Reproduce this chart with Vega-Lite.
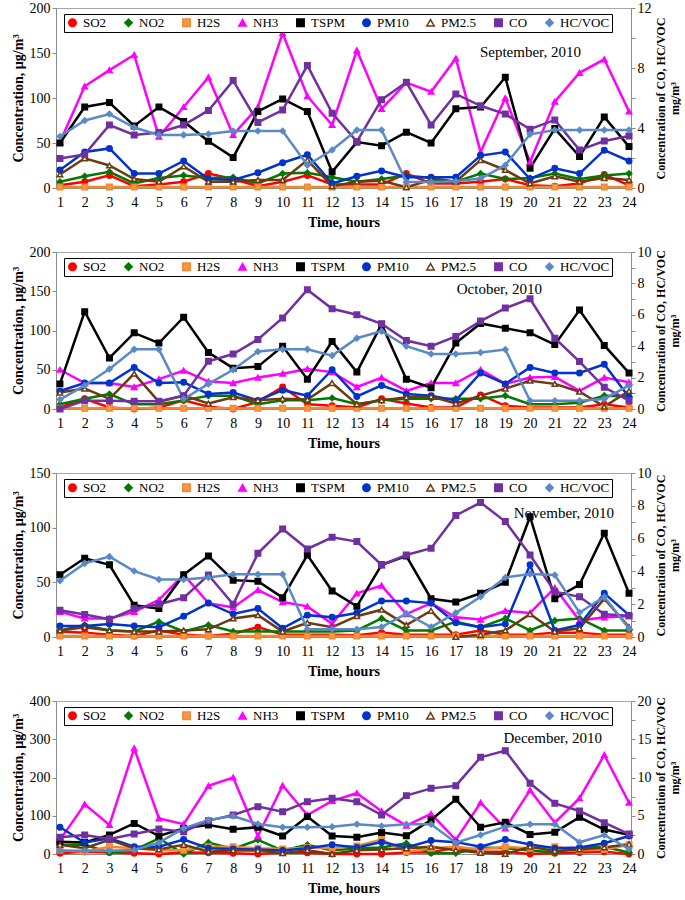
{
"$schema":"https://vega.github.io/schema/vega-lite/v6.json",
"padding":{"left":10,"top":0,"right":0,"bottom":2},
"spacing":64,
"bounds":"flush",
"datasets":{
"sep":[
{"hour":1,"gas":"SO2","value":3},{"hour":2,"gas":"SO2","value":7},{"hour":3,"gas":"SO2","value":14},{"hour":4,"gas":"SO2","value":2},{"hour":5,"gas":"SO2","value":4},{"hour":6,"gas":"SO2","value":7},{"hour":7,"gas":"SO2","value":16},{"hour":8,"gas":"SO2","value":10},{"hour":9,"gas":"SO2","value":2},{"hour":10,"gas":"SO2","value":7},{"hour":11,"gas":"SO2","value":14},{"hour":12,"gas":"SO2","value":4},{"hour":13,"gas":"SO2","value":4},{"hour":14,"gas":"SO2","value":4},{"hour":15,"gas":"SO2","value":16},{"hour":16,"gas":"SO2","value":5},{"hour":17,"gas":"SO2","value":5},{"hour":18,"gas":"SO2","value":7},{"hour":19,"gas":"SO2","value":10},{"hour":20,"gas":"SO2","value":3},{"hour":21,"gas":"SO2","value":2},{"hour":22,"gas":"SO2","value":5},{"hour":23,"gas":"SO2","value":15},{"hour":24,"gas":"SO2","value":3},
{"hour":1,"gas":"NO2","value":7},{"hour":2,"gas":"NO2","value":13},{"hour":3,"gas":"NO2","value":18},{"hour":4,"gas":"NO2","value":5},{"hour":5,"gas":"NO2","value":11},{"hour":6,"gas":"NO2","value":14},{"hour":7,"gas":"NO2","value":11},{"hour":8,"gas":"NO2","value":12},{"hour":9,"gas":"NO2","value":5},{"hour":10,"gas":"NO2","value":16},{"hour":11,"gas":"NO2","value":17},{"hour":12,"gas":"NO2","value":12},{"hour":13,"gas":"NO2","value":7},{"hour":14,"gas":"NO2","value":10},{"hour":15,"gas":"NO2","value":14},{"hour":16,"gas":"NO2","value":11},{"hour":17,"gas":"NO2","value":7},{"hour":18,"gas":"NO2","value":16},{"hour":19,"gas":"NO2","value":10},{"hour":20,"gas":"NO2","value":11},{"hour":21,"gas":"NO2","value":16},{"hour":22,"gas":"NO2","value":10},{"hour":23,"gas":"NO2","value":14},{"hour":24,"gas":"NO2","value":16},
{"hour":1,"gas":"H2S","value":1},{"hour":2,"gas":"H2S","value":1},{"hour":3,"gas":"H2S","value":1},{"hour":4,"gas":"H2S","value":1},{"hour":5,"gas":"H2S","value":1},{"hour":6,"gas":"H2S","value":1},{"hour":7,"gas":"H2S","value":1},{"hour":8,"gas":"H2S","value":1},{"hour":9,"gas":"H2S","value":1},{"hour":10,"gas":"H2S","value":1},{"hour":11,"gas":"H2S","value":1},{"hour":12,"gas":"H2S","value":1},{"hour":13,"gas":"H2S","value":1},{"hour":14,"gas":"H2S","value":1},{"hour":15,"gas":"H2S","value":1},{"hour":16,"gas":"H2S","value":1},{"hour":17,"gas":"H2S","value":1},{"hour":18,"gas":"H2S","value":1},{"hour":19,"gas":"H2S","value":1},{"hour":20,"gas":"H2S","value":1},{"hour":21,"gas":"H2S","value":1},{"hour":22,"gas":"H2S","value":1},{"hour":23,"gas":"H2S","value":1},{"hour":24,"gas":"H2S","value":1},
{"hour":1,"gas":"NH3","value":51},{"hour":2,"gas":"NH3","value":113},{"hour":3,"gas":"NH3","value":131},{"hour":4,"gas":"NH3","value":148},{"hour":5,"gas":"NH3","value":57},{"hour":6,"gas":"NH3","value":90},{"hour":7,"gas":"NH3","value":123},{"hour":8,"gas":"NH3","value":59},{"hour":9,"gas":"NH3","value":90},{"hour":10,"gas":"NH3","value":172},{"hour":11,"gas":"NH3","value":102},{"hour":12,"gas":"NH3","value":70},{"hour":13,"gas":"NH3","value":153},{"hour":14,"gas":"NH3","value":88},{"hour":15,"gas":"NH3","value":117},{"hour":16,"gas":"NH3","value":107},{"hour":17,"gas":"NH3","value":144},{"hour":18,"gas":"NH3","value":40},{"hour":19,"gas":"NH3","value":100},{"hour":20,"gas":"NH3","value":29},{"hour":21,"gas":"NH3","value":96},{"hour":22,"gas":"NH3","value":128},{"hour":23,"gas":"NH3","value":143},{"hour":24,"gas":"NH3","value":85},
{"hour":1,"gas":"TSPM","value":50},{"hour":2,"gas":"TSPM","value":90},{"hour":3,"gas":"TSPM","value":95},{"hour":4,"gas":"TSPM","value":69},{"hour":5,"gas":"TSPM","value":90},{"hour":6,"gas":"TSPM","value":74},{"hour":7,"gas":"TSPM","value":52},{"hour":8,"gas":"TSPM","value":34},{"hour":9,"gas":"TSPM","value":85},{"hour":10,"gas":"TSPM","value":99},{"hour":11,"gas":"TSPM","value":85},{"hour":12,"gas":"TSPM","value":18},{"hour":13,"gas":"TSPM","value":51},{"hour":14,"gas":"TSPM","value":47},{"hour":15,"gas":"TSPM","value":62},{"hour":16,"gas":"TSPM","value":50},{"hour":17,"gas":"TSPM","value":88},{"hour":18,"gas":"TSPM","value":90},{"hour":19,"gas":"TSPM","value":123},{"hour":20,"gas":"TSPM","value":22},{"hour":21,"gas":"TSPM","value":66},{"hour":22,"gas":"TSPM","value":35},{"hour":23,"gas":"TSPM","value":79},{"hour":24,"gas":"TSPM","value":46},
{"hour":1,"gas":"PM10","value":20},{"hour":2,"gas":"PM10","value":40},{"hour":3,"gas":"PM10","value":44},{"hour":4,"gas":"PM10","value":16},{"hour":5,"gas":"PM10","value":16},{"hour":6,"gas":"PM10","value":30},{"hour":7,"gas":"PM10","value":10},{"hour":8,"gas":"PM10","value":9},{"hour":9,"gas":"PM10","value":17},{"hour":10,"gas":"PM10","value":28},{"hour":11,"gas":"PM10","value":37},{"hour":12,"gas":"PM10","value":5},{"hour":13,"gas":"PM10","value":13},{"hour":14,"gas":"PM10","value":19},{"hour":15,"gas":"PM10","value":12},{"hour":16,"gas":"PM10","value":12},{"hour":17,"gas":"PM10","value":12},{"hour":18,"gas":"PM10","value":36},{"hour":19,"gas":"PM10","value":40},{"hour":20,"gas":"PM10","value":10},{"hour":21,"gas":"PM10","value":22},{"hour":22,"gas":"PM10","value":16},{"hour":23,"gas":"PM10","value":42},{"hour":24,"gas":"PM10","value":30},
{"hour":1,"gas":"PM2.5","value":15},{"hour":2,"gas":"PM2.5","value":33},{"hour":3,"gas":"PM2.5","value":25},{"hour":4,"gas":"PM2.5","value":10},{"hour":5,"gas":"PM2.5","value":7},{"hour":6,"gas":"PM2.5","value":24},{"hour":7,"gas":"PM2.5","value":7},{"hour":8,"gas":"PM2.5","value":7},{"hour":9,"gas":"PM2.5","value":9},{"hour":10,"gas":"PM2.5","value":9},{"hour":11,"gas":"PM2.5","value":31},{"hour":12,"gas":"PM2.5","value":2},{"hour":13,"gas":"PM2.5","value":7},{"hour":14,"gas":"PM2.5","value":8},{"hour":15,"gas":"PM2.5","value":1},{"hour":16,"gas":"PM2.5","value":9},{"hour":17,"gas":"PM2.5","value":7},{"hour":18,"gas":"PM2.5","value":31},{"hour":19,"gas":"PM2.5","value":20},{"hour":20,"gas":"PM2.5","value":5},{"hour":21,"gas":"PM2.5","value":13},{"hour":22,"gas":"PM2.5","value":7},{"hour":23,"gas":"PM2.5","value":11},{"hour":24,"gas":"PM2.5","value":9},
{"hour":1,"gas":"CO","value":1.97},{"hour":2,"gas":"CO","value":2.24},{"hour":3,"gas":"CO","value":4.2},{"hour":4,"gas":"CO","value":3.54},{"hour":5,"gas":"CO","value":3.7},{"hour":6,"gas":"CO","value":4.2},{"hour":7,"gas":"CO","value":5.17},{"hour":8,"gas":"CO","value":7.16},{"hour":9,"gas":"CO","value":4.37},{"hour":10,"gas":"CO","value":5.2},{"hour":11,"gas":"CO","value":8.17},{"hour":12,"gas":"CO","value":4.99},{"hour":13,"gas":"CO","value":3.09},{"hour":14,"gas":"CO","value":5.89},{"hour":15,"gas":"CO","value":7.05},{"hour":16,"gas":"CO","value":4.2},{"hour":17,"gas":"CO","value":6.27},{"hour":18,"gas":"CO","value":5.48},{"hour":19,"gas":"CO","value":4.93},{"hour":20,"gas":"CO","value":3.92},{"hour":21,"gas":"CO","value":4.54},{"hour":22,"gas":"CO","value":2.53},{"hour":23,"gas":"CO","value":3.13},{"hour":24,"gas":"CO","value":3.47},
{"hour":1,"gas":"HC/VOC","value":3.43},{"hour":2,"gas":"HC/VOC","value":4.5},{"hour":3,"gas":"HC/VOC","value":4.93},{"hour":4,"gas":"HC/VOC","value":4.03},{"hour":5,"gas":"HC/VOC","value":3.54},{"hour":6,"gas":"HC/VOC","value":3.54},{"hour":7,"gas":"HC/VOC","value":3.6},{"hour":8,"gas":"HC/VOC","value":3.8},{"hour":9,"gas":"HC/VOC","value":3.8},{"hour":10,"gas":"HC/VOC","value":3.8},{"hour":11,"gas":"HC/VOC","value":1.52},{"hour":12,"gas":"HC/VOC","value":2.53},{"hour":13,"gas":"HC/VOC","value":3.87},{"hour":14,"gas":"HC/VOC","value":3.87},{"hour":15,"gas":"HC/VOC","value":0.4},{"hour":16,"gas":"HC/VOC","value":0.4},{"hour":17,"gas":"HC/VOC","value":0.45},{"hour":18,"gas":"HC/VOC","value":0.63},{"hour":19,"gas":"HC/VOC","value":1.52},{"hour":20,"gas":"HC/VOC","value":3.58},{"hour":21,"gas":"HC/VOC","value":3.87},{"hour":22,"gas":"HC/VOC","value":3.87},{"hour":23,"gas":"HC/VOC","value":3.87},{"hour":24,"gas":"HC/VOC","value":3.87}
],
"oct":[
{"hour":1,"gas":"SO2","value":2},{"hour":2,"gas":"SO2","value":13},{"hour":3,"gas":"SO2","value":2},{"hour":4,"gas":"SO2","value":0},{"hour":5,"gas":"SO2","value":2},{"hour":6,"gas":"SO2","value":11},{"hour":7,"gas":"SO2","value":3},{"hour":8,"gas":"SO2","value":0},{"hour":9,"gas":"SO2","value":9},{"hour":10,"gas":"SO2","value":28},{"hour":11,"gas":"SO2","value":6},{"hour":12,"gas":"SO2","value":4},{"hour":13,"gas":"SO2","value":2},{"hour":14,"gas":"SO2","value":13},{"hour":15,"gas":"SO2","value":7},{"hour":16,"gas":"SO2","value":2},{"hour":17,"gas":"SO2","value":2},{"hour":18,"gas":"SO2","value":18},{"hour":19,"gas":"SO2","value":4},{"hour":20,"gas":"SO2","value":2},{"hour":21,"gas":"SO2","value":2},{"hour":22,"gas":"SO2","value":2},{"hour":23,"gas":"SO2","value":6},{"hour":24,"gas":"SO2","value":2},
{"hour":1,"gas":"NO2","value":6},{"hour":2,"gas":"NO2","value":13},{"hour":3,"gas":"NO2","value":19},{"hour":4,"gas":"NO2","value":6},{"hour":5,"gas":"NO2","value":6},{"hour":6,"gas":"NO2","value":11},{"hour":7,"gas":"NO2","value":17},{"hour":8,"gas":"NO2","value":17},{"hour":9,"gas":"NO2","value":6},{"hour":10,"gas":"NO2","value":11},{"hour":11,"gas":"NO2","value":11},{"hour":12,"gas":"NO2","value":14},{"hour":13,"gas":"NO2","value":6},{"hour":14,"gas":"NO2","value":11},{"hour":15,"gas":"NO2","value":13},{"hour":16,"gas":"NO2","value":13},{"hour":17,"gas":"NO2","value":13},{"hour":18,"gas":"NO2","value":13},{"hour":19,"gas":"NO2","value":17},{"hour":20,"gas":"NO2","value":6},{"hour":21,"gas":"NO2","value":6},{"hour":22,"gas":"NO2","value":8},{"hour":23,"gas":"NO2","value":17},{"hour":24,"gas":"NO2","value":16},
{"hour":1,"gas":"H2S","value":1},{"hour":2,"gas":"H2S","value":1},{"hour":3,"gas":"H2S","value":1},{"hour":4,"gas":"H2S","value":1},{"hour":5,"gas":"H2S","value":1},{"hour":6,"gas":"H2S","value":1},{"hour":7,"gas":"H2S","value":1},{"hour":8,"gas":"H2S","value":1},{"hour":9,"gas":"H2S","value":1},{"hour":10,"gas":"H2S","value":1},{"hour":11,"gas":"H2S","value":1},{"hour":12,"gas":"H2S","value":1},{"hour":13,"gas":"H2S","value":1},{"hour":14,"gas":"H2S","value":1},{"hour":15,"gas":"H2S","value":1},{"hour":16,"gas":"H2S","value":1},{"hour":17,"gas":"H2S","value":1},{"hour":18,"gas":"H2S","value":1},{"hour":19,"gas":"H2S","value":1},{"hour":20,"gas":"H2S","value":1},{"hour":21,"gas":"H2S","value":1},{"hour":22,"gas":"H2S","value":1},{"hour":23,"gas":"H2S","value":1},{"hour":24,"gas":"H2S","value":1},
{"hour":1,"gas":"NH3","value":50},{"hour":2,"gas":"NH3","value":33},{"hour":3,"gas":"NH3","value":33},{"hour":4,"gas":"NH3","value":28},{"hour":5,"gas":"NH3","value":38},{"hour":6,"gas":"NH3","value":49},{"hour":7,"gas":"NH3","value":35},{"hour":8,"gas":"NH3","value":33},{"hour":9,"gas":"NH3","value":40},{"hour":10,"gas":"NH3","value":45},{"hour":11,"gas":"NH3","value":51},{"hour":12,"gas":"NH3","value":47},{"hour":13,"gas":"NH3","value":28},{"hour":14,"gas":"NH3","value":40},{"hour":15,"gas":"NH3","value":23},{"hour":16,"gas":"NH3","value":33},{"hour":17,"gas":"NH3","value":33},{"hour":18,"gas":"NH3","value":50},{"hour":19,"gas":"NH3","value":32},{"hour":20,"gas":"NH3","value":40},{"hour":21,"gas":"NH3","value":41},{"hour":22,"gas":"NH3","value":23},{"hour":23,"gas":"NH3","value":40},{"hour":24,"gas":"NH3","value":34},
{"hour":1,"gas":"TSPM","value":32},{"hour":2,"gas":"TSPM","value":124},{"hour":3,"gas":"TSPM","value":65},{"hour":4,"gas":"TSPM","value":97},{"hour":5,"gas":"TSPM","value":84},{"hour":6,"gas":"TSPM","value":117},{"hour":7,"gas":"TSPM","value":72},{"hour":8,"gas":"TSPM","value":52},{"hour":9,"gas":"TSPM","value":54},{"hour":10,"gas":"TSPM","value":80},{"hour":11,"gas":"TSPM","value":38},{"hour":12,"gas":"TSPM","value":86},{"hour":13,"gas":"TSPM","value":47},{"hour":14,"gas":"TSPM","value":108},{"hour":15,"gas":"TSPM","value":38},{"hour":16,"gas":"TSPM","value":27},{"hour":17,"gas":"TSPM","value":84},{"hour":18,"gas":"TSPM","value":109},{"hour":19,"gas":"TSPM","value":103},{"hour":20,"gas":"TSPM","value":97},{"hour":21,"gas":"TSPM","value":82},{"hour":22,"gas":"TSPM","value":126},{"hour":23,"gas":"TSPM","value":81},{"hour":24,"gas":"TSPM","value":46},
{"hour":1,"gas":"PM10","value":23},{"hour":2,"gas":"PM10","value":33},{"hour":3,"gas":"PM10","value":33},{"hour":4,"gas":"PM10","value":53},{"hour":5,"gas":"PM10","value":33},{"hour":6,"gas":"PM10","value":34},{"hour":7,"gas":"PM10","value":19},{"hour":8,"gas":"PM10","value":21},{"hour":9,"gas":"PM10","value":11},{"hour":10,"gas":"PM10","value":24},{"hour":11,"gas":"PM10","value":17},{"hour":12,"gas":"PM10","value":50},{"hour":13,"gas":"PM10","value":16},{"hour":14,"gas":"PM10","value":30},{"hour":15,"gas":"PM10","value":19},{"hour":16,"gas":"PM10","value":17},{"hour":17,"gas":"PM10","value":11},{"hour":18,"gas":"PM10","value":46},{"hour":19,"gas":"PM10","value":32},{"hour":20,"gas":"PM10","value":53},{"hour":21,"gas":"PM10","value":46},{"hour":22,"gas":"PM10","value":46},{"hour":23,"gas":"PM10","value":57},{"hour":24,"gas":"PM10","value":15},
{"hour":1,"gas":"PM2.5","value":21},{"hour":2,"gas":"PM2.5","value":26},{"hour":3,"gas":"PM2.5","value":13},{"hour":4,"gas":"PM2.5","value":45},{"hour":5,"gas":"PM2.5","value":9},{"hour":6,"gas":"PM2.5","value":17},{"hour":7,"gas":"PM2.5","value":7},{"hour":8,"gas":"PM2.5","value":15},{"hour":9,"gas":"PM2.5","value":11},{"hour":10,"gas":"PM2.5","value":13},{"hour":11,"gas":"PM2.5","value":12},{"hour":12,"gas":"PM2.5","value":33},{"hour":13,"gas":"PM2.5","value":6},{"hour":14,"gas":"PM2.5","value":11},{"hour":15,"gas":"PM2.5","value":15},{"hour":16,"gas":"PM2.5","value":16},{"hour":17,"gas":"PM2.5","value":7},{"hour":18,"gas":"PM2.5","value":17},{"hour":19,"gas":"PM2.5","value":26},{"hour":20,"gas":"PM2.5","value":36},{"hour":21,"gas":"PM2.5","value":32},{"hour":22,"gas":"PM2.5","value":22},{"hour":23,"gas":"PM2.5","value":3},{"hour":24,"gas":"PM2.5","value":23},
{"hour":1,"gas":"CO","value":0},{"hour":2,"gas":"CO","value":0.53},{"hour":3,"gas":"CO","value":0.53},{"hour":4,"gas":"CO","value":0.5},{"hour":5,"gas":"CO","value":0.5},{"hour":6,"gas":"CO","value":0.85},{"hour":7,"gas":"CO","value":3.04},{"hour":8,"gas":"CO","value":3.5},{"hour":9,"gas":"CO","value":4.43},{"hour":10,"gas":"CO","value":5.8},{"hour":11,"gas":"CO","value":7.6},{"hour":12,"gas":"CO","value":6.38},{"hour":13,"gas":"CO","value":6.0},{"hour":14,"gas":"CO","value":5.43},{"hour":15,"gas":"CO","value":4.36},{"hour":16,"gas":"CO","value":4.0},{"hour":17,"gas":"CO","value":4.62},{"hour":18,"gas":"CO","value":5.6},{"hour":19,"gas":"CO","value":6.43},{"hour":20,"gas":"CO","value":7.02},{"hour":21,"gas":"CO","value":4.51},{"hour":22,"gas":"CO","value":3.02},{"hour":23,"gas":"CO","value":1.38},{"hour":24,"gas":"CO","value":0.53},
{"hour":1,"gas":"HC/VOC","value":0.6},{"hour":2,"gas":"HC/VOC","value":1.5},{"hour":3,"gas":"HC/VOC","value":2.55},{"hour":4,"gas":"HC/VOC","value":3.8},{"hour":5,"gas":"HC/VOC","value":3.8},{"hour":6,"gas":"HC/VOC","value":0.64},{"hour":7,"gas":"HC/VOC","value":1.6},{"hour":8,"gas":"HC/VOC","value":2.5},{"hour":9,"gas":"HC/VOC","value":3.66},{"hour":10,"gas":"HC/VOC","value":3.8},{"hour":11,"gas":"HC/VOC","value":3.8},{"hour":12,"gas":"HC/VOC","value":3.4},{"hour":13,"gas":"HC/VOC","value":4.51},{"hour":14,"gas":"HC/VOC","value":4.96},{"hour":15,"gas":"HC/VOC","value":4.0},{"hour":16,"gas":"HC/VOC","value":3.5},{"hour":17,"gas":"HC/VOC","value":3.5},{"hour":18,"gas":"HC/VOC","value":3.6},{"hour":19,"gas":"HC/VOC","value":3.79},{"hour":20,"gas":"HC/VOC","value":0.53},{"hour":21,"gas":"HC/VOC","value":0.53},{"hour":22,"gas":"HC/VOC","value":0.53},{"hour":23,"gas":"HC/VOC","value":0.64},{"hour":24,"gas":"HC/VOC","value":1.5}
],
"nov":[
{"hour":1,"gas":"SO2","value":5},{"hour":2,"gas":"SO2","value":4},{"hour":3,"gas":"SO2","value":2},{"hour":4,"gas":"SO2","value":1},{"hour":5,"gas":"SO2","value":6},{"hour":6,"gas":"SO2","value":2},{"hour":7,"gas":"SO2","value":1},{"hour":8,"gas":"SO2","value":3},{"hour":9,"gas":"SO2","value":9},{"hour":10,"gas":"SO2","value":2},{"hour":11,"gas":"SO2","value":2},{"hour":12,"gas":"SO2","value":2},{"hour":13,"gas":"SO2","value":1.5},{"hour":14,"gas":"SO2","value":4},{"hour":15,"gas":"SO2","value":2},{"hour":16,"gas":"SO2","value":2},{"hour":17,"gas":"SO2","value":2},{"hour":18,"gas":"SO2","value":6},{"hour":19,"gas":"SO2","value":2},{"hour":20,"gas":"SO2","value":2},{"hour":21,"gas":"SO2","value":4},{"hour":22,"gas":"SO2","value":4},{"hour":23,"gas":"SO2","value":2},{"hour":24,"gas":"SO2","value":2},
{"hour":1,"gas":"NO2","value":6},{"hour":2,"gas":"NO2","value":11},{"hour":3,"gas":"NO2","value":6},{"hour":4,"gas":"NO2","value":5},{"hour":5,"gas":"NO2","value":14},{"hour":6,"gas":"NO2","value":5},{"hour":7,"gas":"NO2","value":11},{"hour":8,"gas":"NO2","value":5},{"hour":9,"gas":"NO2","value":5},{"hour":10,"gas":"NO2","value":5},{"hour":11,"gas":"NO2","value":5},{"hour":12,"gas":"NO2","value":5},{"hour":13,"gas":"NO2","value":6},{"hour":14,"gas":"NO2","value":17},{"hour":15,"gas":"NO2","value":6},{"hour":16,"gas":"NO2","value":6},{"hour":17,"gas":"NO2","value":14},{"hour":18,"gas":"NO2","value":9},{"hour":19,"gas":"NO2","value":17},{"hour":20,"gas":"NO2","value":6},{"hour":21,"gas":"NO2","value":15},{"hour":22,"gas":"NO2","value":17},{"hour":23,"gas":"NO2","value":6},{"hour":24,"gas":"NO2","value":6},
{"hour":1,"gas":"H2S","value":1},{"hour":2,"gas":"H2S","value":1},{"hour":3,"gas":"H2S","value":1},{"hour":4,"gas":"H2S","value":1},{"hour":5,"gas":"H2S","value":1},{"hour":6,"gas":"H2S","value":1},{"hour":7,"gas":"H2S","value":1},{"hour":8,"gas":"H2S","value":1},{"hour":9,"gas":"H2S","value":1},{"hour":10,"gas":"H2S","value":1},{"hour":11,"gas":"H2S","value":1},{"hour":12,"gas":"H2S","value":1},{"hour":13,"gas":"H2S","value":1},{"hour":14,"gas":"H2S","value":1},{"hour":15,"gas":"H2S","value":1},{"hour":16,"gas":"H2S","value":1},{"hour":17,"gas":"H2S","value":1},{"hour":18,"gas":"H2S","value":1},{"hour":19,"gas":"H2S","value":1},{"hour":20,"gas":"H2S","value":1},{"hour":21,"gas":"H2S","value":1},{"hour":22,"gas":"H2S","value":1},{"hour":23,"gas":"H2S","value":1},{"hour":24,"gas":"H2S","value":1},
{"hour":1,"gas":"NH3","value":23},{"hour":2,"gas":"NH3","value":17},{"hour":3,"gas":"NH3","value":17},{"hour":4,"gas":"NH3","value":23},{"hour":5,"gas":"NH3","value":34},{"hour":6,"gas":"NH3","value":57},{"hour":7,"gas":"NH3","value":31},{"hour":8,"gas":"NH3","value":27},{"hour":9,"gas":"NH3","value":43},{"hour":10,"gas":"NH3","value":32},{"hour":11,"gas":"NH3","value":28},{"hour":12,"gas":"NH3","value":12},{"hour":13,"gas":"NH3","value":40},{"hour":14,"gas":"NH3","value":47},{"hour":15,"gas":"NH3","value":21},{"hour":16,"gas":"NH3","value":31},{"hour":17,"gas":"NH3","value":18},{"hour":18,"gas":"NH3","value":16},{"hour":19,"gas":"NH3","value":24},{"hour":20,"gas":"NH3","value":22},{"hour":21,"gas":"NH3","value":45},{"hour":22,"gas":"NH3","value":15},{"hour":23,"gas":"NH3","value":18},{"hour":24,"gas":"NH3","value":19},
{"hour":1,"gas":"TSPM","value":57},{"hour":2,"gas":"TSPM","value":72},{"hour":3,"gas":"TSPM","value":66},{"hour":4,"gas":"TSPM","value":29},{"hour":5,"gas":"TSPM","value":26},{"hour":6,"gas":"TSPM","value":57},{"hour":7,"gas":"TSPM","value":74},{"hour":8,"gas":"TSPM","value":52},{"hour":9,"gas":"TSPM","value":51},{"hour":10,"gas":"TSPM","value":36},{"hour":11,"gas":"TSPM","value":75},{"hour":12,"gas":"TSPM","value":42},{"hour":13,"gas":"TSPM","value":28},{"hour":14,"gas":"TSPM","value":66},{"hour":15,"gas":"TSPM","value":74},{"hour":16,"gas":"TSPM","value":35},{"hour":17,"gas":"TSPM","value":32},{"hour":18,"gas":"TSPM","value":40},{"hour":19,"gas":"TSPM","value":50},{"hour":20,"gas":"TSPM","value":110},{"hour":21,"gas":"TSPM","value":35},{"hour":22,"gas":"TSPM","value":48},{"hour":23,"gas":"TSPM","value":95},{"hour":24,"gas":"TSPM","value":40},
{"hour":1,"gas":"PM10","value":10},{"hour":2,"gas":"PM10","value":10},{"hour":3,"gas":"PM10","value":12},{"hour":4,"gas":"PM10","value":10},{"hour":5,"gas":"PM10","value":9},{"hour":6,"gas":"PM10","value":19},{"hour":7,"gas":"PM10","value":31},{"hour":8,"gas":"PM10","value":21},{"hour":9,"gas":"PM10","value":26},{"hour":10,"gas":"PM10","value":8},{"hour":11,"gas":"PM10","value":20},{"hour":12,"gas":"PM10","value":18},{"hour":13,"gas":"PM10","value":22},{"hour":14,"gas":"PM10","value":33},{"hour":15,"gas":"PM10","value":33},{"hour":16,"gas":"PM10","value":31},{"hour":17,"gas":"PM10","value":13},{"hour":18,"gas":"PM10","value":9},{"hour":19,"gas":"PM10","value":12},{"hour":20,"gas":"PM10","value":66},{"hour":21,"gas":"PM10","value":6},{"hour":22,"gas":"PM10","value":11},{"hour":23,"gas":"PM10","value":40},{"hour":24,"gas":"PM10","value":20},
{"hour":1,"gas":"PM2.5","value":6},{"hour":2,"gas":"PM2.5","value":9},{"hour":3,"gas":"PM2.5","value":6},{"hour":4,"gas":"PM2.5","value":5},{"hour":5,"gas":"PM2.5","value":5},{"hour":6,"gas":"PM2.5","value":6},{"hour":7,"gas":"PM2.5","value":7},{"hour":8,"gas":"PM2.5","value":17},{"hour":9,"gas":"PM2.5","value":20},{"hour":10,"gas":"PM2.5","value":5},{"hour":11,"gas":"PM2.5","value":13},{"hour":12,"gas":"PM2.5","value":9},{"hour":13,"gas":"PM2.5","value":19},{"hour":14,"gas":"PM2.5","value":25},{"hour":15,"gas":"PM2.5","value":11},{"hour":16,"gas":"PM2.5","value":24},{"hour":17,"gas":"PM2.5","value":0},{"hour":18,"gas":"PM2.5","value":2},{"hour":19,"gas":"PM2.5","value":6},{"hour":20,"gas":"PM2.5","value":21},{"hour":21,"gas":"PM2.5","value":5},{"hour":22,"gas":"PM2.5","value":8},{"hour":23,"gas":"PM2.5","value":35},{"hour":24,"gas":"PM2.5","value":9},
{"hour":1,"gas":"CO","value":1.63},{"hour":2,"gas":"CO","value":1.37},{"hour":3,"gas":"CO","value":1.08},{"hour":4,"gas":"CO","value":1.73},{"hour":5,"gas":"CO","value":2.0},{"hour":6,"gas":"CO","value":2.39},{"hour":7,"gas":"CO","value":3.78},{"hour":8,"gas":"CO","value":2.0},{"hour":9,"gas":"CO","value":5.1},{"hour":10,"gas":"CO","value":6.59},{"hour":11,"gas":"CO","value":5.37},{"hour":12,"gas":"CO","value":6.08},{"hour":13,"gas":"CO","value":5.82},{"hour":14,"gas":"CO","value":4.39},{"hour":15,"gas":"CO","value":5.0},{"hour":16,"gas":"CO","value":5.41},{"hour":17,"gas":"CO","value":7.41},{"hour":18,"gas":"CO","value":8.2},{"hour":19,"gas":"CO","value":7.04},{"hour":20,"gas":"CO","value":5.0},{"hour":21,"gas":"CO","value":2.76},{"hour":22,"gas":"CO","value":2.45},{"hour":23,"gas":"CO","value":1.39},{"hour":24,"gas":"CO","value":1.29},
{"hour":1,"gas":"HC/VOC","value":3.43},{"hour":2,"gas":"HC/VOC","value":4.49},{"hour":3,"gas":"HC/VOC","value":4.9},{"hour":4,"gas":"HC/VOC","value":4.02},{"hour":5,"gas":"HC/VOC","value":3.51},{"hour":6,"gas":"HC/VOC","value":3.51},{"hour":7,"gas":"HC/VOC","value":3.63},{"hour":8,"gas":"HC/VOC","value":3.82},{"hour":9,"gas":"HC/VOC","value":3.82},{"hour":10,"gas":"HC/VOC","value":3.82},{"hour":11,"gas":"HC/VOC","value":0.47},{"hour":12,"gas":"HC/VOC","value":0.47},{"hour":13,"gas":"HC/VOC","value":0.47},{"hour":14,"gas":"HC/VOC","value":0.61},{"hour":15,"gas":"HC/VOC","value":1.43},{"hour":16,"gas":"HC/VOC","value":0.61},{"hour":17,"gas":"HC/VOC","value":1.47},{"hour":18,"gas":"HC/VOC","value":2.45},{"hour":19,"gas":"HC/VOC","value":3.63},{"hour":20,"gas":"HC/VOC","value":3.84},{"hour":21,"gas":"HC/VOC","value":3.78},{"hour":22,"gas":"HC/VOC","value":1.49},{"hour":23,"gas":"HC/VOC","value":2.45},{"hour":24,"gas":"HC/VOC","value":0.51}
],
"dec":[
{"hour":1,"gas":"SO2","value":2},{"hour":2,"gas":"SO2","value":6},{"hour":3,"gas":"SO2","value":4},{"hour":4,"gas":"SO2","value":2},{"hour":5,"gas":"SO2","value":0},{"hour":6,"gas":"SO2","value":4},{"hour":7,"gas":"SO2","value":3},{"hour":8,"gas":"SO2","value":2},{"hour":9,"gas":"SO2","value":0},{"hour":10,"gas":"SO2","value":3},{"hour":11,"gas":"SO2","value":3},{"hour":12,"gas":"SO2","value":0},{"hour":13,"gas":"SO2","value":0},{"hour":14,"gas":"SO2","value":0},{"hour":15,"gas":"SO2","value":4},{"hour":16,"gas":"SO2","value":4},{"hour":17,"gas":"SO2","value":17},{"hour":18,"gas":"SO2","value":6},{"hour":19,"gas":"SO2","value":6},{"hour":20,"gas":"SO2","value":0},{"hour":21,"gas":"SO2","value":2},{"hour":22,"gas":"SO2","value":4},{"hour":23,"gas":"SO2","value":6},{"hour":24,"gas":"SO2","value":0},
{"hour":1,"gas":"NO2","value":24},{"hour":2,"gas":"NO2","value":24},{"hour":3,"gas":"NO2","value":4},{"hour":4,"gas":"NO2","value":10},{"hour":5,"gas":"NO2","value":41},{"hour":6,"gas":"NO2","value":0},{"hour":7,"gas":"NO2","value":30},{"hour":8,"gas":"NO2","value":13},{"hour":9,"gas":"NO2","value":37},{"hour":10,"gas":"NO2","value":9},{"hour":11,"gas":"NO2","value":24},{"hour":12,"gas":"NO2","value":9},{"hour":13,"gas":"NO2","value":15},{"hour":14,"gas":"NO2","value":17},{"hour":15,"gas":"NO2","value":28},{"hour":16,"gas":"NO2","value":2},{"hour":17,"gas":"NO2","value":2},{"hour":18,"gas":"NO2","value":17},{"hour":19,"gas":"NO2","value":15},{"hour":20,"gas":"NO2","value":9},{"hour":21,"gas":"NO2","value":4},{"hour":22,"gas":"NO2","value":17},{"hour":23,"gas":"NO2","value":19},{"hour":24,"gas":"NO2","value":4},
{"hour":1,"gas":"H2S","value":10},{"hour":2,"gas":"H2S","value":6},{"hour":3,"gas":"H2S","value":19},{"hour":4,"gas":"H2S","value":15},{"hour":5,"gas":"H2S","value":10},{"hour":6,"gas":"H2S","value":10},{"hour":7,"gas":"H2S","value":19},{"hour":8,"gas":"H2S","value":19},{"hour":9,"gas":"H2S","value":15},{"hour":10,"gas":"H2S","value":13},{"hour":11,"gas":"H2S","value":17},{"hour":12,"gas":"H2S","value":15},{"hour":13,"gas":"H2S","value":21},{"hour":14,"gas":"H2S","value":38},{"hour":15,"gas":"H2S","value":6},{"hour":16,"gas":"H2S","value":15},{"hour":17,"gas":"H2S","value":19},{"hour":18,"gas":"H2S","value":12},{"hour":19,"gas":"H2S","value":19},{"hour":20,"gas":"H2S","value":15},{"hour":21,"gas":"H2S","value":19},{"hour":22,"gas":"H2S","value":10},{"hour":23,"gas":"H2S","value":12},{"hour":24,"gas":"H2S","value":24},
{"hour":1,"gas":"NH3","value":37},{"hour":2,"gas":"NH3","value":130},{"hour":3,"gas":"NH3","value":76},{"hour":4,"gas":"NH3","value":276},{"hour":5,"gas":"NH3","value":93},{"hour":6,"gas":"NH3","value":78},{"hour":7,"gas":"NH3","value":178},{"hour":8,"gas":"NH3","value":200},{"hour":9,"gas":"NH3","value":47},{"hour":10,"gas":"NH3","value":179},{"hour":11,"gas":"NH3","value":102},{"hour":12,"gas":"NH3","value":139},{"hour":13,"gas":"NH3","value":159},{"hour":14,"gas":"NH3","value":112},{"hour":15,"gas":"NH3","value":74},{"hour":16,"gas":"NH3","value":105},{"hour":17,"gas":"NH3","value":37},{"hour":18,"gas":"NH3","value":134},{"hour":19,"gas":"NH3","value":67},{"hour":20,"gas":"NH3","value":167},{"hour":21,"gas":"NH3","value":82},{"hour":22,"gas":"NH3","value":146},{"hour":23,"gas":"NH3","value":259},{"hour":24,"gas":"NH3","value":134},
{"hour":1,"gas":"TSPM","value":32},{"hour":2,"gas":"TSPM","value":30},{"hour":3,"gas":"TSPM","value":50},{"hour":4,"gas":"TSPM","value":80},{"hour":5,"gas":"TSPM","value":47},{"hour":6,"gas":"TSPM","value":67},{"hour":7,"gas":"TSPM","value":76},{"hour":8,"gas":"TSPM","value":65},{"hour":9,"gas":"TSPM","value":70},{"hour":10,"gas":"TSPM","value":47},{"hour":11,"gas":"TSPM","value":98},{"hour":12,"gas":"TSPM","value":47},{"hour":13,"gas":"TSPM","value":44},{"hour":14,"gas":"TSPM","value":56},{"hour":15,"gas":"TSPM","value":48},{"hour":16,"gas":"TSPM","value":89},{"hour":17,"gas":"TSPM","value":143},{"hour":18,"gas":"TSPM","value":70},{"hour":19,"gas":"TSPM","value":83},{"hour":20,"gas":"TSPM","value":51},{"hour":21,"gas":"TSPM","value":57},{"hour":22,"gas":"TSPM","value":96},{"hour":23,"gas":"TSPM","value":64},{"hour":24,"gas":"TSPM","value":50},
{"hour":1,"gas":"PM10","value":70},{"hour":2,"gas":"PM10","value":30},{"hour":3,"gas":"PM10","value":41},{"hour":4,"gas":"PM10","value":19},{"hour":5,"gas":"PM10","value":19},{"hour":6,"gas":"PM10","value":38},{"hour":7,"gas":"PM10","value":15},{"hour":8,"gas":"PM10","value":13},{"hour":9,"gas":"PM10","value":12},{"hour":10,"gas":"PM10","value":9},{"hour":11,"gas":"PM10","value":15},{"hour":12,"gas":"PM10","value":24},{"hour":13,"gas":"PM10","value":17},{"hour":14,"gas":"PM10","value":31},{"hour":15,"gas":"PM10","value":17},{"hour":16,"gas":"PM10","value":35},{"hour":17,"gas":"PM10","value":31},{"hour":18,"gas":"PM10","value":19},{"hour":19,"gas":"PM10","value":38},{"hour":20,"gas":"PM10","value":25},{"hour":21,"gas":"PM10","value":15},{"hour":22,"gas":"PM10","value":17},{"hour":23,"gas":"PM10","value":28},{"hour":24,"gas":"PM10","value":47},
{"hour":1,"gas":"PM2.5","value":24},{"hour":2,"gas":"PM2.5","value":15},{"hour":3,"gas":"PM2.5","value":37},{"hour":4,"gas":"PM2.5","value":15},{"hour":5,"gas":"PM2.5","value":12},{"hour":6,"gas":"PM2.5","value":24},{"hour":7,"gas":"PM2.5","value":6},{"hour":8,"gas":"PM2.5","value":10},{"hour":9,"gas":"PM2.5","value":9},{"hour":10,"gas":"PM2.5","value":2},{"hour":11,"gas":"PM2.5","value":10},{"hour":12,"gas":"PM2.5","value":0},{"hour":13,"gas":"PM2.5","value":10},{"hour":14,"gas":"PM2.5","value":12},{"hour":15,"gas":"PM2.5","value":15},{"hour":16,"gas":"PM2.5","value":19},{"hour":17,"gas":"PM2.5","value":10},{"hour":18,"gas":"PM2.5","value":3},{"hour":19,"gas":"PM2.5","value":0},{"hour":20,"gas":"PM2.5","value":19},{"hour":21,"gas":"PM2.5","value":8},{"hour":22,"gas":"PM2.5","value":12},{"hour":23,"gas":"PM2.5","value":17},{"hour":24,"gas":"PM2.5","value":26},
{"hour":1,"gas":"CO","value":2.18},{"hour":2,"gas":"CO","value":2.48},{"hour":3,"gas":"CO","value":1.96},{"hour":4,"gas":"CO","value":2.61},{"hour":5,"gas":"CO","value":3.27},{"hour":6,"gas":"CO","value":2.92},{"hour":7,"gas":"CO","value":4.36},{"hour":8,"gas":"CO","value":5.1},{"hour":9,"gas":"CO","value":6.19},{"hour":10,"gas":"CO","value":5.53},{"hour":11,"gas":"CO","value":6.84},{"hour":12,"gas":"CO","value":7.28},{"hour":13,"gas":"CO","value":6.84},{"hour":14,"gas":"CO","value":5.1},{"hour":15,"gas":"CO","value":7.63},{"hour":16,"gas":"CO","value":8.58},{"hour":17,"gas":"CO","value":8.93},{"hour":18,"gas":"CO","value":12.64},{"hour":19,"gas":"CO","value":13.51},{"hour":20,"gas":"CO","value":9.24},{"hour":21,"gas":"CO","value":6.62},{"hour":22,"gas":"CO","value":5.62},{"hour":23,"gas":"CO","value":4.1},{"hour":24,"gas":"CO","value":2.61},
{"hour":1,"gas":"HC/VOC","value":0.44},{"hour":2,"gas":"HC/VOC","value":0.44},{"hour":3,"gas":"HC/VOC","value":0.44},{"hour":4,"gas":"HC/VOC","value":0.52},{"hour":5,"gas":"HC/VOC","value":1.48},{"hour":6,"gas":"HC/VOC","value":3.36},{"hour":7,"gas":"HC/VOC","value":4.44},{"hour":8,"gas":"HC/VOC","value":4.97},{"hour":9,"gas":"HC/VOC","value":3.92},{"hour":10,"gas":"HC/VOC","value":3.49},{"hour":11,"gas":"HC/VOC","value":3.49},{"hour":12,"gas":"HC/VOC","value":3.57},{"hour":13,"gas":"HC/VOC","value":3.88},{"hour":14,"gas":"HC/VOC","value":3.66},{"hour":15,"gas":"HC/VOC","value":3.88},{"hour":16,"gas":"HC/VOC","value":3.88},{"hour":17,"gas":"HC/VOC","value":1.48},{"hour":18,"gas":"HC/VOC","value":2.48},{"hour":19,"gas":"HC/VOC","value":3.57},{"hour":20,"gas":"HC/VOC","value":3.88},{"hour":21,"gas":"HC/VOC","value":3.88},{"hour":22,"gas":"HC/VOC","value":1.53},{"hour":23,"gas":"HC/VOC","value":2.48},{"hour":24,"gas":"HC/VOC","value":0.65}
]
},
"vconcat":[
{"width":575,"height":180,"data":{"name":"sep"},
"title":{"text":"September, 2010","orient":"top","anchor":"end","frame":"group","offset":-66,"dx":-50,"baseline":"middle"},
"encoding":{"x":{"field":"hour","type":"quantitative","scale":{"domain":[0.84,24.08],"nice":false,"zero":false},"axis":{"title":"Time, hours","values":[1,2,3,4,5,6,7,8,9,10,11,12,13,14,15,16,17,18,19,20,21,22,23,24],"ticks":false,"tickSize":0,"labelPadding":7,"titlePadding":6,"labelFlush":false,"labelOverlap":false}}},
"layer":[
{"encoding":{"y":{"field":"value","type":"quantitative","scale":{"domain":[0,200],"nice":false},"axis":{"orient":"left","values":[0,50,100,150,200],"title":"Concentration, µg/m³","titlePadding":4}}},
"layer":[
{"transform":[{"filter":{"field":"gas","oneOf":["SO2","NO2","H2S","NH3","TSPM","PM10","PM2.5"]}}],"mark":{"type":"line","strokeWidth":2.5},"encoding":{"stroke":{"field":"gas","type":"nominal","scale":{"domain":["SO2","NO2","H2S","NH3","TSPM","PM10","PM2.5","CO","HC/VOC"],"range":["#ff0000","#007a00","#f08a30","#ff00ff","#000000","#0033cc","#6b3a10","#7030a0","#5a8ac6"]},"legend":{"title":null}}}},
{"transform":[{"filter":{"field":"gas","oneOf":["SO2","NO2","H2S","NH3","TSPM","PM10","PM2.5"]}}],"mark":{"type":"point","filled":true,"opacity":1,"strokeWidth":1.5},"encoding":{
"stroke":{"field":"gas","type":"nominal","scale":{"domain":["SO2","NO2","H2S","NH3","TSPM","PM10","PM2.5","CO","HC/VOC"],"range":["#ff0000","#007a00","#f08a30","#ff00ff","#000000","#0033cc","#6b3a10","#7030a0","#5a8ac6"]},"legend":{"title":null}},
"fill":{"field":"gas","type":"nominal","scale":{"domain":["SO2","NO2","H2S","NH3","TSPM","PM10","PM2.5","CO","HC/VOC"],"range":["#ff0000","#007a00","#f79646","#ff00ff","#000000","#0033cc","#ffffff","#7030a0","#5a8ac6"]},"legend":{"title":null}},
"shape":{"field":"gas","type":"nominal","scale":{"domain":["SO2","NO2","H2S","NH3","TSPM","PM10","PM2.5","CO","HC/VOC"],"range":["circle","diamond","square","triangle-up","square","circle","triangle-up","square","diamond"]},"legend":{"title":null}}}}
]},
{"encoding":{"y":{"field":"value","type":"quantitative","scale":{"domain":[0,12],"nice":false},"axis":{"orient":"right","values":[0,2,4,6,8,10,12],"labelExpr":"datum.value % 4 == 0 ? datum.label : ''","title":["Concentration of CO, HC/VOC","mg/m³"],"titleFontSize":12,"titleAngle":270,"titlePadding":2}}},
"layer":[
{"transform":[{"filter":{"field":"gas","oneOf":["CO","HC/VOC"]}}],"mark":{"type":"line","strokeWidth":2.5},"encoding":{"stroke":{"field":"gas","type":"nominal","scale":{"domain":["SO2","NO2","H2S","NH3","TSPM","PM10","PM2.5","CO","HC/VOC"],"range":["#ff0000","#007a00","#f08a30","#ff00ff","#000000","#0033cc","#6b3a10","#7030a0","#5a8ac6"]},"legend":{"title":null}}}},
{"transform":[{"filter":{"field":"gas","oneOf":["CO","HC/VOC"]}}],"mark":{"type":"point","filled":true,"opacity":1,"strokeWidth":1.5},"encoding":{
"stroke":{"field":"gas","type":"nominal","scale":{"domain":["SO2","NO2","H2S","NH3","TSPM","PM10","PM2.5","CO","HC/VOC"],"range":["#ff0000","#007a00","#f08a30","#ff00ff","#000000","#0033cc","#6b3a10","#7030a0","#5a8ac6"]},"legend":{"title":null}},
"fill":{"field":"gas","type":"nominal","scale":{"domain":["SO2","NO2","H2S","NH3","TSPM","PM10","PM2.5","CO","HC/VOC"],"range":["#ff0000","#007a00","#f79646","#ff00ff","#000000","#0033cc","#ffffff","#7030a0","#5a8ac6"]},"legend":{"title":null}},
"shape":{"field":"gas","type":"nominal","scale":{"domain":["SO2","NO2","H2S","NH3","TSPM","PM10","PM2.5","CO","HC/VOC"],"range":["circle","diamond","square","triangle-up","square","circle","triangle-up","square","diamond"]},"legend":{"title":null}}}}
]}
],
"resolve":{"scale":{"y":"independent"}}},
{"width":575,"height":157,"data":{"name":"oct"},
"title":{"text":"October, 2010","orient":"top","anchor":"end","frame":"group","offset":-59,"dx":-89,"baseline":"middle"},
"encoding":{"x":{"field":"hour","type":"quantitative","scale":{"domain":[0.84,24.08],"nice":false,"zero":false},"axis":{"title":"Time, hours","values":[1,2,3,4,5,6,7,8,9,10,11,12,13,14,15,16,17,18,19,20,21,22,23,24],"ticks":false,"tickSize":0,"labelPadding":7,"titlePadding":6,"labelFlush":false,"labelOverlap":false}}},
"layer":[
{"encoding":{"y":{"field":"value","type":"quantitative","scale":{"domain":[0,200],"nice":false},"axis":{"orient":"left","values":[0,50,100,150,200],"title":"Concentration, µg/m³","titlePadding":4}}},
"layer":[
{"transform":[{"filter":{"field":"gas","oneOf":["SO2","NO2","H2S","NH3","TSPM","PM10","PM2.5"]}}],"mark":{"type":"line","strokeWidth":2.5},"encoding":{"stroke":{"field":"gas","type":"nominal","scale":{"domain":["SO2","NO2","H2S","NH3","TSPM","PM10","PM2.5","CO","HC/VOC"],"range":["#ff0000","#007a00","#f08a30","#ff00ff","#000000","#0033cc","#6b3a10","#7030a0","#5a8ac6"]},"legend":{"title":null}}}},
{"transform":[{"filter":{"field":"gas","oneOf":["SO2","NO2","H2S","NH3","TSPM","PM10","PM2.5"]}}],"mark":{"type":"point","filled":true,"opacity":1,"strokeWidth":1.5},"encoding":{
"stroke":{"field":"gas","type":"nominal","scale":{"domain":["SO2","NO2","H2S","NH3","TSPM","PM10","PM2.5","CO","HC/VOC"],"range":["#ff0000","#007a00","#f08a30","#ff00ff","#000000","#0033cc","#6b3a10","#7030a0","#5a8ac6"]},"legend":{"title":null}},
"fill":{"field":"gas","type":"nominal","scale":{"domain":["SO2","NO2","H2S","NH3","TSPM","PM10","PM2.5","CO","HC/VOC"],"range":["#ff0000","#007a00","#f79646","#ff00ff","#000000","#0033cc","#ffffff","#7030a0","#5a8ac6"]},"legend":{"title":null}},
"shape":{"field":"gas","type":"nominal","scale":{"domain":["SO2","NO2","H2S","NH3","TSPM","PM10","PM2.5","CO","HC/VOC"],"range":["circle","diamond","square","triangle-up","square","circle","triangle-up","square","diamond"]},"legend":{"title":null}}}}
]},
{"encoding":{"y":{"field":"value","type":"quantitative","scale":{"domain":[0,10],"nice":false},"axis":{"orient":"right","values":[0,1,2,3,4,5,6,7,8,9,10],"labelExpr":"datum.value % 2 == 0 ? datum.label : ''","title":["Concentration of CO, HC/VOC","mg/m³"],"titleFontSize":12,"titleAngle":270,"titlePadding":2}}},
"layer":[
{"transform":[{"filter":{"field":"gas","oneOf":["CO","HC/VOC"]}}],"mark":{"type":"line","strokeWidth":2.5},"encoding":{"stroke":{"field":"gas","type":"nominal","scale":{"domain":["SO2","NO2","H2S","NH3","TSPM","PM10","PM2.5","CO","HC/VOC"],"range":["#ff0000","#007a00","#f08a30","#ff00ff","#000000","#0033cc","#6b3a10","#7030a0","#5a8ac6"]},"legend":{"title":null}}}},
{"transform":[{"filter":{"field":"gas","oneOf":["CO","HC/VOC"]}}],"mark":{"type":"point","filled":true,"opacity":1,"strokeWidth":1.5},"encoding":{
"stroke":{"field":"gas","type":"nominal","scale":{"domain":["SO2","NO2","H2S","NH3","TSPM","PM10","PM2.5","CO","HC/VOC"],"range":["#ff0000","#007a00","#f08a30","#ff00ff","#000000","#0033cc","#6b3a10","#7030a0","#5a8ac6"]},"legend":{"title":null}},
"fill":{"field":"gas","type":"nominal","scale":{"domain":["SO2","NO2","H2S","NH3","TSPM","PM10","PM2.5","CO","HC/VOC"],"range":["#ff0000","#007a00","#f79646","#ff00ff","#000000","#0033cc","#ffffff","#7030a0","#5a8ac6"]},"legend":{"title":null}},
"shape":{"field":"gas","type":"nominal","scale":{"domain":["SO2","NO2","H2S","NH3","TSPM","PM10","PM2.5","CO","HC/VOC"],"range":["circle","diamond","square","triangle-up","square","circle","triangle-up","square","diamond"]},"legend":{"title":null}}}}
]}
],
"resolve":{"scale":{"y":"independent"}}},
{"width":575,"height":164,"data":{"name":"nov"},
"title":{"text":"November, 2010","orient":"top","anchor":"end","frame":"group","offset":-62,"dx":-17,"baseline":"middle"},
"encoding":{"x":{"field":"hour","type":"quantitative","scale":{"domain":[0.84,24.08],"nice":false,"zero":false},"axis":{"title":"Time, hours","values":[1,2,3,4,5,6,7,8,9,10,11,12,13,14,15,16,17,18,19,20,21,22,23,24],"ticks":false,"tickSize":0,"labelPadding":7,"titlePadding":6,"labelFlush":false,"labelOverlap":false}}},
"layer":[
{"encoding":{"y":{"field":"value","type":"quantitative","scale":{"domain":[0,150],"nice":false},"axis":{"orient":"left","values":[0,50,100,150],"title":"Concentration, µg/m³","titlePadding":4}}},
"layer":[
{"transform":[{"filter":{"field":"gas","oneOf":["SO2","NO2","H2S","NH3","TSPM","PM10","PM2.5"]}}],"mark":{"type":"line","strokeWidth":2.5},"encoding":{"stroke":{"field":"gas","type":"nominal","scale":{"domain":["SO2","NO2","H2S","NH3","TSPM","PM10","PM2.5","CO","HC/VOC"],"range":["#ff0000","#007a00","#f08a30","#ff00ff","#000000","#0033cc","#6b3a10","#7030a0","#5a8ac6"]},"legend":{"title":null}}}},
{"transform":[{"filter":{"field":"gas","oneOf":["SO2","NO2","H2S","NH3","TSPM","PM10","PM2.5"]}}],"mark":{"type":"point","filled":true,"opacity":1,"strokeWidth":1.5},"encoding":{
"stroke":{"field":"gas","type":"nominal","scale":{"domain":["SO2","NO2","H2S","NH3","TSPM","PM10","PM2.5","CO","HC/VOC"],"range":["#ff0000","#007a00","#f08a30","#ff00ff","#000000","#0033cc","#6b3a10","#7030a0","#5a8ac6"]},"legend":{"title":null}},
"fill":{"field":"gas","type":"nominal","scale":{"domain":["SO2","NO2","H2S","NH3","TSPM","PM10","PM2.5","CO","HC/VOC"],"range":["#ff0000","#007a00","#f79646","#ff00ff","#000000","#0033cc","#ffffff","#7030a0","#5a8ac6"]},"legend":{"title":null}},
"shape":{"field":"gas","type":"nominal","scale":{"domain":["SO2","NO2","H2S","NH3","TSPM","PM10","PM2.5","CO","HC/VOC"],"range":["circle","diamond","square","triangle-up","square","circle","triangle-up","square","diamond"]},"legend":{"title":null}}}}
]},
{"encoding":{"y":{"field":"value","type":"quantitative","scale":{"domain":[0,10],"nice":false},"axis":{"orient":"right","values":[0,1,2,3,4,5,6,7,8,9,10],"labelExpr":"datum.value % 2 == 0 ? datum.label : ''","title":["Concentration of CO,  HC/VOC","mg/m³"],"titleFontSize":12,"titleAngle":270,"titlePadding":2}}},
"layer":[
{"transform":[{"filter":{"field":"gas","oneOf":["CO","HC/VOC"]}}],"mark":{"type":"line","strokeWidth":2.5},"encoding":{"stroke":{"field":"gas","type":"nominal","scale":{"domain":["SO2","NO2","H2S","NH3","TSPM","PM10","PM2.5","CO","HC/VOC"],"range":["#ff0000","#007a00","#f08a30","#ff00ff","#000000","#0033cc","#6b3a10","#7030a0","#5a8ac6"]},"legend":{"title":null}}}},
{"transform":[{"filter":{"field":"gas","oneOf":["CO","HC/VOC"]}}],"mark":{"type":"point","filled":true,"opacity":1,"strokeWidth":1.5},"encoding":{
"stroke":{"field":"gas","type":"nominal","scale":{"domain":["SO2","NO2","H2S","NH3","TSPM","PM10","PM2.5","CO","HC/VOC"],"range":["#ff0000","#007a00","#f08a30","#ff00ff","#000000","#0033cc","#6b3a10","#7030a0","#5a8ac6"]},"legend":{"title":null}},
"fill":{"field":"gas","type":"nominal","scale":{"domain":["SO2","NO2","H2S","NH3","TSPM","PM10","PM2.5","CO","HC/VOC"],"range":["#ff0000","#007a00","#f79646","#ff00ff","#000000","#0033cc","#ffffff","#7030a0","#5a8ac6"]},"legend":{"title":null}},
"shape":{"field":"gas","type":"nominal","scale":{"domain":["SO2","NO2","H2S","NH3","TSPM","PM10","PM2.5","CO","HC/VOC"],"range":["circle","diamond","square","triangle-up","square","circle","triangle-up","square","diamond"]},"legend":{"title":null}}}}
]}
],
"resolve":{"scale":{"y":"independent"}}},
{"width":575,"height":153,"data":{"name":"dec"},
"title":{"text":"December, 2010","orient":"top","anchor":"end","frame":"group","offset":-59,"dx":-29,"baseline":"middle"},
"encoding":{"x":{"field":"hour","type":"quantitative","scale":{"domain":[0.84,24.08],"nice":false,"zero":false},"axis":{"title":"Time, hours","values":[1,2,3,4,5,6,7,8,9,10,11,12,13,14,15,16,17,18,19,20,21,22,23,24],"ticks":false,"tickSize":0,"labelPadding":7,"titlePadding":6,"labelFlush":false,"labelOverlap":false}}},
"layer":[
{"encoding":{"y":{"field":"value","type":"quantitative","scale":{"domain":[0,400],"nice":false},"axis":{"orient":"left","values":[0,100,200,300,400],"title":"Concentration, µg/m³","titlePadding":4}}},
"layer":[
{"transform":[{"filter":{"field":"gas","oneOf":["SO2","NO2","H2S","NH3","TSPM","PM10","PM2.5"]}}],"mark":{"type":"line","strokeWidth":2.5},"encoding":{"stroke":{"field":"gas","type":"nominal","scale":{"domain":["SO2","NO2","H2S","NH3","TSPM","PM10","PM2.5","CO","HC/VOC"],"range":["#ff0000","#007a00","#f08a30","#ff00ff","#000000","#0033cc","#6b3a10","#7030a0","#5a8ac6"]},"legend":{"title":null}}}},
{"transform":[{"filter":{"field":"gas","oneOf":["SO2","NO2","H2S","NH3","TSPM","PM10","PM2.5"]}}],"mark":{"type":"point","filled":true,"opacity":1,"strokeWidth":1.5},"encoding":{
"stroke":{"field":"gas","type":"nominal","scale":{"domain":["SO2","NO2","H2S","NH3","TSPM","PM10","PM2.5","CO","HC/VOC"],"range":["#ff0000","#007a00","#f08a30","#ff00ff","#000000","#0033cc","#6b3a10","#7030a0","#5a8ac6"]},"legend":{"title":null}},
"fill":{"field":"gas","type":"nominal","scale":{"domain":["SO2","NO2","H2S","NH3","TSPM","PM10","PM2.5","CO","HC/VOC"],"range":["#ff0000","#007a00","#f79646","#ff00ff","#000000","#0033cc","#ffffff","#7030a0","#5a8ac6"]},"legend":{"title":null}},
"shape":{"field":"gas","type":"nominal","scale":{"domain":["SO2","NO2","H2S","NH3","TSPM","PM10","PM2.5","CO","HC/VOC"],"range":["circle","diamond","square","triangle-up","square","circle","triangle-up","square","diamond"]},"legend":{"title":null}}}}
]},
{"encoding":{"y":{"field":"value","type":"quantitative","scale":{"domain":[0,20],"nice":false},"axis":{"orient":"right","values":[0,2.5,5,7.5,10,12.5,15,17.5,20],"labelExpr":"datum.value % 5 == 0 ? datum.label : ''","title":["Concentration of CO, HC/VOC","mg/m³"],"titleFontSize":12,"titleAngle":270,"titlePadding":2}}},
"layer":[
{"transform":[{"filter":{"field":"gas","oneOf":["CO","HC/VOC"]}}],"mark":{"type":"line","strokeWidth":2.5},"encoding":{"stroke":{"field":"gas","type":"nominal","scale":{"domain":["SO2","NO2","H2S","NH3","TSPM","PM10","PM2.5","CO","HC/VOC"],"range":["#ff0000","#007a00","#f08a30","#ff00ff","#000000","#0033cc","#6b3a10","#7030a0","#5a8ac6"]},"legend":{"title":null}}}},
{"transform":[{"filter":{"field":"gas","oneOf":["CO","HC/VOC"]}}],"mark":{"type":"point","filled":true,"opacity":1,"strokeWidth":1.5},"encoding":{
"stroke":{"field":"gas","type":"nominal","scale":{"domain":["SO2","NO2","H2S","NH3","TSPM","PM10","PM2.5","CO","HC/VOC"],"range":["#ff0000","#007a00","#f08a30","#ff00ff","#000000","#0033cc","#6b3a10","#7030a0","#5a8ac6"]},"legend":{"title":null}},
"fill":{"field":"gas","type":"nominal","scale":{"domain":["SO2","NO2","H2S","NH3","TSPM","PM10","PM2.5","CO","HC/VOC"],"range":["#ff0000","#007a00","#f79646","#ff00ff","#000000","#0033cc","#ffffff","#7030a0","#5a8ac6"]},"legend":{"title":null}},
"shape":{"field":"gas","type":"nominal","scale":{"domain":["SO2","NO2","H2S","NH3","TSPM","PM10","PM2.5","CO","HC/VOC"],"range":["circle","diamond","square","triangle-up","square","circle","triangle-up","square","diamond"]},"legend":{"title":null}}}}
]}
],
"resolve":{"scale":{"y":"independent"}}}
],
"resolve":{"scale":{"stroke":"independent","fill":"independent","shape":"independent"},"legend":{"stroke":"independent","fill":"independent","shape":"independent"}},
"config":{
"font":"Liberation Serif",
"view":{"stroke":"#a6a6a6"},
"title":{"font":"Liberation Serif","fontSize":15,"fontWeight":"normal","color":"black"},
"axis":{"labelFont":"Liberation Serif","labelFontSize":14,"labelColor":"black","titleFont":"Liberation Serif","titleFontSize":14,"titleFontWeight":"bold","titleColor":"black","domainColor":"#8c8c8c","tickColor":"#8c8c8c","tickSize":4,"grid":false},
"legend":{"orient":"none","legendX":8,"legendY":6,"direction":"horizontal","columns":9,"strokeColor":"black","fillColor":"white","padding":2,"labelFont":"Liberation Serif","labelFontSize":13,"labelColor":"black","symbolSize":55,"symbolStrokeWidth":1.5,"columnPadding":14,"labelOffset":4}
}
}
